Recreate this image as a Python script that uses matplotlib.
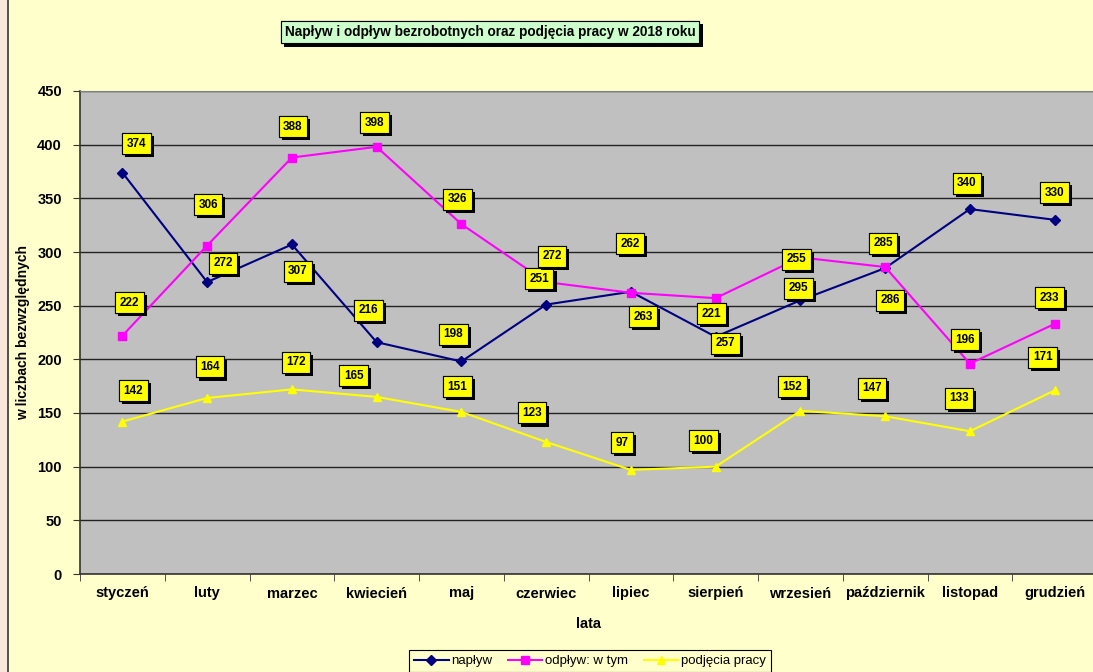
import matplotlib
matplotlib.use("Agg")
import matplotlib.pyplot as plt
from matplotlib import patheffects as pe
from matplotlib.patches import Rectangle
import numpy as np

plt.rcParams['font.family'] = ['Liberation Sans', 'DejaVu Sans']

months = ["styczeń", "luty", "marzec", "kwiecień", "maj", "czerwiec",
          "lipiec", "sierpień", "wrzesień", "październik", "listopad", "grudzień"]
naplyw = [374, 272, 307, 216, 198, 251, 263, 221, 255, 285, 340, 330]
odplyw = [222, 306, 388, 398, 326, 272, 262, 257, 295, 286, 196, 233]
podjecia = [142, 164, 172, 165, 151, 123, 97, 100, 152, 147, 133, 171]
y_ticks = [0, 50, 100, 150, 200, 250, 300, 350, 400, 450]

title = "Napływ i odpływ bezrobotnych oraz podjęcia pracy w 2018 roku"

# label offsets in pixels (dx right, dy up)
off_naplyw = [(14, 29), (16, 19), (6, -27), (-8, 32), (-8, 27), (-7, 26),
              (12, -25), (-4, 23), (-4, 41), (-2, 25), (-3, 26), (0, 27)]
off_odplyw = [(7, 33), (1, 41), (1, 31), (-2, 24), (-4, 25), (6, 26),
              (-1, 49), (10, -45), (-2, -31), (5, -33), (-5, 24), (-5, 26)]
off_podj = [(11, 31), (3, 31), (4, 27), (-23, 21), (-4, 25), (-14, 29),
            (-9, 27), (-12, 26), (-8, 24), (-13, 28), (-11, 33), (-12, 33)]

W, H = 1093, 672
BG = "#FFFFCC"
fig = plt.figure(figsize=(W / 100, H / 100), dpi=100, facecolor=BG)

# left strip
fig.patches.append(Rectangle((0, 0), 7 / W, 1, transform=fig.transFigure,
                             facecolor="#FBE6DC", edgecolor="none", zorder=0))
fig.add_artist(plt.Line2D([7.5 / W, 7.5 / W], [0, 1], transform=fig.transFigure,
                          color="#333333", lw=1.2))

ax = fig.add_axes([80 / W, 98 / H, (1097 - 80) / W, 483 / H])
ax.set_facecolor("#C0C0C0")
x = np.arange(len(months))

ax.plot(x, naplyw, color="#000080", marker="D", markersize=5, lw=1.5,
        label="napływ", zorder=3)
ax.plot(x, odplyw, color="#FF00FF", marker="s", markersize=6, lw=1.5,
        label="odpływ: w tym", zorder=3)
ax.plot(x, podjecia, color="#FFFF00", marker="^", markersize=6, lw=1.5,
        label="podjęcia pracy", zorder=3)

ax.set_xlim(-0.5, len(months) - 0.5)
ax.set_ylim(0, 450)
ax.set_yticks(y_ticks)
ax.set_yticklabels([str(v) for v in y_ticks], fontsize=10.5, fontweight="bold")
ax.set_xticks(x)
ax.set_xticklabels(months, fontsize=10.5, fontweight="bold")
ax.tick_params(axis="x", which="major", length=0, pad=9)
ax.set_xticks(np.arange(-0.5, len(months), 1), minor=True)
ax.tick_params(axis="x", which="minor", length=5, color="#333333")
ax.tick_params(axis="y", length=5, color="#333333", pad=8)
ax.grid(axis="y", color="#222222", lw=1)
ax.set_axisbelow(True)
for s in ["top", "right"]:
    ax.spines[s].set_color("#808080")
for s in ["left", "bottom"]:
    ax.spines[s].set_color("#333333")
    ax.spines[s].set_linewidth(1.2)

ax.set_ylabel("w liczbach bezwzględnych", fontsize=10, fontweight="bold")
ax.yaxis.set_label_coords((30 - 80) / ((1097 - 80)), 0.5)
ax.set_xlabel("lata", fontsize=10.5, fontweight="bold", labelpad=12)


def add_labels(vals, offs):
    for i, (v, (dx, dy)) in enumerate(zip(vals, offs)):
        t = ax.annotate(str(v), (i, v), xytext=(dx * 0.72, dy * 0.72),
                        textcoords="offset points", ha="center", va="center",
                        fontsize=8.5, fontweight="bold", zorder=5,
                        bbox=dict(boxstyle="square,pad=0.38", fc="#FFFF00",
                                  ec="black", lw=0.8))
        t.get_bbox_patch().set_path_effects(
            [pe.withSimplePatchShadow(offset=(2.2, -2.2), shadow_rgbFace="black",
                                      alpha=1), pe.Normal()])


add_labels(naplyw, off_naplyw)
add_labels(odplyw, off_odplyw)
add_labels(podjecia, off_podj)

# title
tt = fig.text(490 / W, 1 - 32 / H, title, ha="center", va="center",
              fontsize=9.8, fontweight="bold",
              bbox=dict(boxstyle="square,pad=0.3", fc="#CCFFCC", ec="black", lw=0.8))
tt.get_bbox_patch().set_path_effects(
    [pe.withSimplePatchShadow(offset=(2.5, -2.5), shadow_rgbFace="black", alpha=1),
     pe.Normal()])

leg = fig.legend(loc="center", bbox_to_anchor=(590 / W, 1 - 661 / H), ncol=3,
                 fontsize=9.5, frameon=True, fancybox=False, edgecolor="black",
                 facecolor=BG, framealpha=1, handlelength=2.6, columnspacing=1.2,
                 borderpad=0.4, handletextpad=0.2)
leg.get_frame().set_linewidth(0.8)

fig.savefig("out.png", dpi=100, facecolor=BG)
